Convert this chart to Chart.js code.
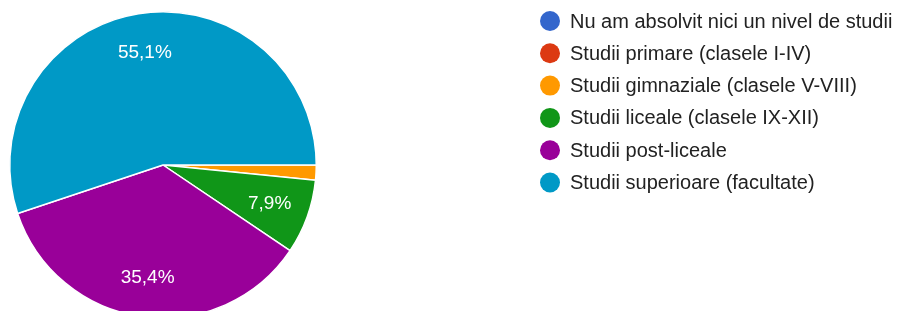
<!DOCTYPE html>
<html>
<head>
<meta charset="utf-8">
<script src="https://cdn.jsdelivr.net/npm/chart.js@4"></script>
<style>
  html, body { margin: 0; padding: 0; background: #fff; overflow: hidden; }
  #wrap { position: relative; width: 900px; height: 330px; }
</style>
</head>
<body>
<div id="wrap"><canvas id="studiiChart" width="900" height="330"></canvas></div>
<script>
/* Nivel de studii - pie chart */

const categories = [
    "Nu am absolvit nici un nivel de studii",
    "Studii primare (clasele I-IV)",
    "Studii gimnaziale (clasele V-VIII)",
    "Studii liceale (clasele IX-XII)",
    "Studii post-liceale",
    "Studii superioare (facultate)"
];

const responses = [0, 0, 2, 10, 45, 70];

const sliceColors = ["#3366cc", "#dc3912", "#ff9900", "#109618", "#990099", "#0099c6"];

const total = responses.reduce((a, b) => a + b, 0);

function percentText(v) {
    return (v / total * 100).toFixed(1).replace(".", ",") + "%";
}

// percentage labels inside the slices
const sliceLabels = {
    id: "sliceLabels",
    afterDatasetsDraw(chart) {
        const ctx = chart.ctx;
        const arcs = chart.getDatasetMeta(0).data;
        ctx.save();
        ctx.font = "19px 'Liberation Sans', Arial, sans-serif";
        ctx.fillStyle = "#ffffff";
        ctx.textAlign = "center";
        ctx.textBaseline = "middle";
        arcs.forEach((arc, i) => {
            const v = responses[i];
            if (v / total < 0.05) return;
            const mid = (arc.startAngle + arc.endAngle) / 2;
            const r = arc.outerRadius * 0.74;
            ctx.fillText(percentText(v), arc.x + Math.cos(mid) * r, arc.y + Math.sin(mid) * r);
        });
        ctx.restore();
    }
};

// legend on the right, drawn by hand
const sideLegend = {
    id: "sideLegend",
    afterDraw(chart) {
        const ctx = chart.ctx;
        ctx.save();
        ctx.font = "20px 'Liberation Sans', Arial, sans-serif";
        ctx.textBaseline = "middle";
        categories.forEach((name, i) => {
            const y = 21 + i * 32.3;
            ctx.beginPath();
            ctx.arc(550, y, 10, 0, Math.PI * 2);
            ctx.fillStyle = sliceColors[i];
            ctx.fill();
            ctx.fillStyle = "#222222";
            ctx.fillText(name, 570, y + 1);
        });
        ctx.restore();
    }
};

new Chart(document.getElementById("studiiChart"), {

    type: "pie",

    data: {
        labels: categories,
        datasets: [{
            data: responses,
            backgroundColor: sliceColors,
            borderColor: "#ffffff",
            borderWidth: 1.5,
            hoverOffset: 0
        }]
    },

    options: {
        responsive: false,
        animation: false,
        rotation: 90,
        layout: {
            padding: { left: 9, top: 11, right: 583, bottom: 11 }
        },
        plugins: {
            legend: { display: false },
            tooltip: { enabled: false }
        }
    },

    plugins: [sliceLabels, sideLegend]

});
</script>
</body>
</html>
